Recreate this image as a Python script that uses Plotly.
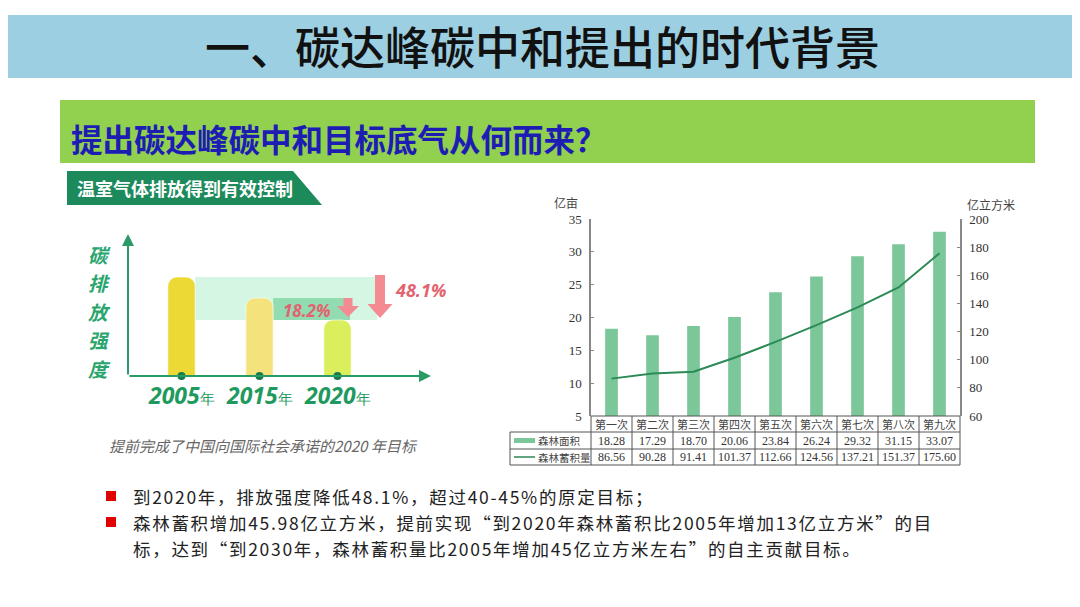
import plotly.graph_objects as go

# ---------------- data ----------------
periods = ["第一次", "第二次", "第三次", "第四次", "第五次", "第六次", "第七次", "第八次", "第九次"]
forest_area = [18.28, 17.29, 18.70, 20.06, 23.84, 26.24, 29.32, 31.15, 33.07]          # 亿亩
forest_volume = [86.56, 90.28, 91.41, 101.37, 112.66, 124.56, 137.21, 151.37, 175.60]  # 亿立方米
area_ticks = [5, 10, 15, 20, 25, 30, 35]
volume_ticks = [60, 80, 100, 120, 140, 160, 180, 200]

years = ["2005", "2015", "2020"]
intensity_index = [99, 78, 56]          # illustrated carbon-intensity bar heights
drops = ["48.1%", "18.2%"]

title = "一、碳达峰碳中和提出的时代背景"
subtitle = "提出碳达峰碳中和目标底气从何而来？"
banner = "温室气体排放得到有效控制"
ylabel_left = "碳排放强度"
caption = "提前完成了中国向国际社会承诺的2020 年目标"
bullets = [
    "到2020年，排放强度降低48.1%，超过40-45%的原定目标；",
    "森林蓄积增加45.98亿立方米，提前实现“到2020年森林蓄积比2005年增加13亿立方米”的目",
    "标，达到“到2030年，森林蓄积量比2005年增加45亿立方米左右”的自主贡献目标。",
]

# page has an 8px body margin: the figure starts at (8, 8) in the window
OFF = 8
W, H = 1080 - OFF, 607 - OFF
def px(x): return (x - OFF) / W
def py(y): return 1 - (y - OFF) / H

CJK = "Noto Sans CJK SC"
SERIF = "Liberation Serif"
BAR_GREEN = "#7cc79a"
LINE_GREEN = "#2b8a56"

fig = go.Figure()

# ---------------- right chart ----------------
fig.add_trace(go.Bar(x=periods, y=forest_area, marker_color=BAR_GREEN, width=0.31,
                     xaxis="x", yaxis="y"))
fig.add_trace(go.Scatter(x=periods, y=forest_volume, mode="lines",
                         line=dict(color=LINE_GREEN, width=2), xaxis="x", yaxis="y3"))

# ---------------- left infographic ----------------
fig.add_trace(go.Bar(x=list(range(len(years))), y=intensity_index,
                     marker=dict(color=["#ebd935", "#f4e37c", "#dbee5c"], cornerradius=9,
                                 line=dict(color="rgba(255,255,255,0.6)", width=1)),
                     width=0.35, xaxis="x2", yaxis="y2"))
fig.add_trace(go.Scatter(x=list(range(len(years))), y=[0] * len(years), mode="markers",
                         marker=dict(color="#177a4a", size=8), cliponaxis=False,
                         xaxis="x2", yaxis="y2"))

shapes = []
annotations = []

def note(x, y, text, size, color, family=CJK, xanchor="center", xref="paper", weight=None,
         align="center"):
    f = dict(family=family, size=size, color=color)
    if weight:
        f["weight"] = weight
    annotations.append(dict(xref=xref, yref="paper", x=x, y=y, text=text, showarrow=False,
                            xanchor=xanchor, yanchor="middle", align=align, font=f))

# background bands
shapes.append(dict(type="rect", xref="paper", yref="paper", x0=px(0), x1=px(1080),
                   y0=py(78), y1=py(15), fillcolor="#9ccfe1", line_width=0, layer="below"))
shapes.append(dict(type="rect", xref="paper", yref="paper", x0=px(60), x1=px(1035),
                   y0=py(163), y1=py(100), fillcolor="#92d050", line_width=0, layer="below"))

# banner polygon
pts = [(67, 171), (293, 171), (322, 205), (67, 205)]
path = "M " + " L ".join(f"{px(a):.5f},{py(b):.5f}" for a, b in pts) + " Z"
shapes.append(dict(type="path", xref="paper", yref="paper", path=path,
                   fillcolor="#1c8a5b", line_width=0))

# highlight bands between bar tops (data coords)
bw = 0.35 / 2
shapes.append(dict(type="rect", xref="x2", yref="y2", x0=0 + bw, x1=2.51,
                   y0=intensity_index[2], y1=intensity_index[0],
                   fillcolor="#d4f6e3", line_width=0, layer="below"))
shapes.append(dict(type="rect", xref="x2", yref="y2", x0=1 + bw, x1=2.16,
                   y0=intensity_index[2], y1=intensity_index[1],
                   fillcolor="#92dcb2", line_width=0, layer="below"))

# block arrows (pixel geometry)
def block_arrow(xc, ytop, ytip, shaft_hw, head_hw, head_h, color):
    yb = ytip - head_h
    p = [(xc - shaft_hw, ytop), (xc + shaft_hw, ytop), (xc + shaft_hw, yb), (xc + head_hw, yb),
         (xc, ytip), (xc - head_hw, yb), (xc - shaft_hw, yb)]
    return dict(type="path", xref="paper", yref="paper",
                path="M " + " L ".join(f"{px(a):.5f},{py(b):.5f}" for a, b in p) + " Z",
                fillcolor=color, line_width=0)
shapes.append(block_arrow(380, 275, 318, 5, 12.5, 14, "#f48b92"))
shapes.append(block_arrow(348, 298, 317, 4.5, 11, 11, "#f48b92"))

# axis arrows for infographic
annotations.append(dict(xref="paper", yref="paper", x=px(128), y=py(234), ax=0, ay=142,
                        showarrow=True, arrowhead=2, arrowsize=1.2, arrowwidth=2,
                        arrowcolor="#2a9a66", text=""))
annotations.append(dict(xref="paper", yref="paper", x=px(431), y=py(376), ax=-303, ay=0,
                        showarrow=True, arrowhead=2, arrowsize=1.2, arrowwidth=2,
                        arrowcolor="#2a9a66", text=""))

# table grid
tcol = "#555555"
for y in [432, 449, 465]:
    shapes.append(dict(type="line", xref="paper", yref="paper", x0=px(510), x1=px(960),
                       y0=py(y), y1=py(y), line=dict(color=tcol, width=1)))
shapes.append(dict(type="line", xref="paper", yref="paper", x0=px(591), x1=px(960),
                   y0=py(416), y1=py(416), line=dict(color=tcol, width=1)))
for xx, y0 in [(510, 432), (591, 416), (960, 416)]:
    shapes.append(dict(type="line", xref="paper", yref="paper", x0=px(xx), x1=px(xx),
                       y0=py(y0), y1=py(465), line=dict(color=tcol, width=1)))
for i in range(len(periods) - 1):
    shapes.append(dict(type="line", xref="x", yref="paper", x0=i + 0.5, x1=i + 0.5,
                       y0=py(416), y1=py(465), line=dict(color=tcol, width=1)))
# legend symbols in table
shapes.append(dict(type="line", xref="paper", yref="paper", x0=px(514), x1=px(535),
                   y0=py(440.5), y1=py(440.5), line=dict(color=BAR_GREEN, width=5)))
shapes.append(dict(type="line", xref="paper", yref="paper", x0=px(514), x1=px(535),
                   y0=py(457), y1=py(457), line=dict(color=LINE_GREEN, width=1.5)))

# table text
for i, p in enumerate(periods):
    note(p, py(424), p, 11, "#444", xref="x")
    note(p, py(440.5), f"{forest_area[i]:.2f}", 12, "#333", family=SERIF, xref="x")
    note(p, py(457), f"{forest_volume[i]:.2f}", 12, "#333", family=SERIF, xref="x")
note(px(536), py(440.5), "森林面积", 10.5, "#444", xanchor="left")
note(px(536), py(457), "森林蓄积量", 10.5, "#444", xanchor="left")

# axis unit labels
note(px(566), py(202), "亿亩", 12, "#444")
note(px(991), py(204), "亿立方米", 12, "#444")

# titles
note(px(542), py(46), title, 45, "#111", weight=500)
note(px(69), py(138), f"<b>{subtitle}</b>", 31.5, "#1d1db4", xanchor="left")
note(px(75), py(188), f"<b>{banner}</b>", 18, "white", xanchor="left")

# vertical label (stacked characters)
for k, ch in enumerate(ylabel_left):
    note(px(99), py(254 + 28.6 * k), f"<b><i>{ch}</i></b>", 19.5, "#2aa56e")

# year labels
for i, yr in enumerate(years):
    note(i, py(395), f"<b><i>{yr}</i></b><span style='font-size:15px;font-weight:normal'>年</span>",
         23, "#1f9a5f", family="Noto Sans", xref="x2")

# percentage labels
note(px(393), py(290), f"<b><i>{drops[0]}</i></b>", 18, "#e2636f", family="Noto Sans", xanchor="left")
note(px(281), py(310), f"<b><i>{drops[1]}</i></b>", 17, "#e2636f", family="Noto Sans", xanchor="left")

# caption
note(px(107), py(445), f"<i>{caption}</i>", 15, "#666", xanchor="left")

# bullets
for yy in [496, 522]:
    shapes.append(dict(type="rect", xref="paper", yref="paper", x0=px(106), x1=px(116),
                       y0=py(yy + 5), y1=py(yy - 5), fillcolor="#e00000", line_width=0))
for txt, yy in zip(bullets, [496, 522, 548]):
    note(px(131), py(yy), f"<span style='letter-spacing:1.7px'>{txt}</span>", 17.5, "#222",
         xanchor="left", align="left")

axis_common = dict(showgrid=False, zeroline=False, ticks="inside", ticklen=3, tickcolor="#888",
                   showline=True, linecolor="#888", linewidth=1.5, automargin=False,
                   tickfont=dict(family=SERIF, size=13, color="#333"))

fig.update_layout(
    template="none",
    width=W, height=H, margin=dict(l=0, r=0, t=0, b=0, pad=0, autoexpand=False),
    paper_bgcolor="white", plot_bgcolor="rgba(0,0,0,0)", showlegend=False,
    xaxis=dict(domain=[px(591), px(960)], range=[-0.5, 8.5], type="category",
               showticklabels=False, showgrid=False, zeroline=False, showline=False, ticks="",
               anchor="y", automargin=False),
    yaxis=dict(domain=[py(416), py(219)], range=[5, 35], tickvals=area_ticks, anchor="x",
               ticklabelstandoff=5, **axis_common),
    yaxis3=dict(overlaying="y", side="right", range=[60, 200], tickvals=volume_ticks, anchor="x",
                ticklabelstandoff=5, **axis_common),
    xaxis2=dict(domain=[px(128), px(430)], range=[-0.686, 3.186], visible=False, anchor="y2",
                automargin=False),
    yaxis2=dict(domain=[py(376), py(235)], range=[0, 141], visible=False, anchor="x2",
                automargin=False),
    shapes=shapes, annotations=annotations,
)

fig.write_html("out.html")
